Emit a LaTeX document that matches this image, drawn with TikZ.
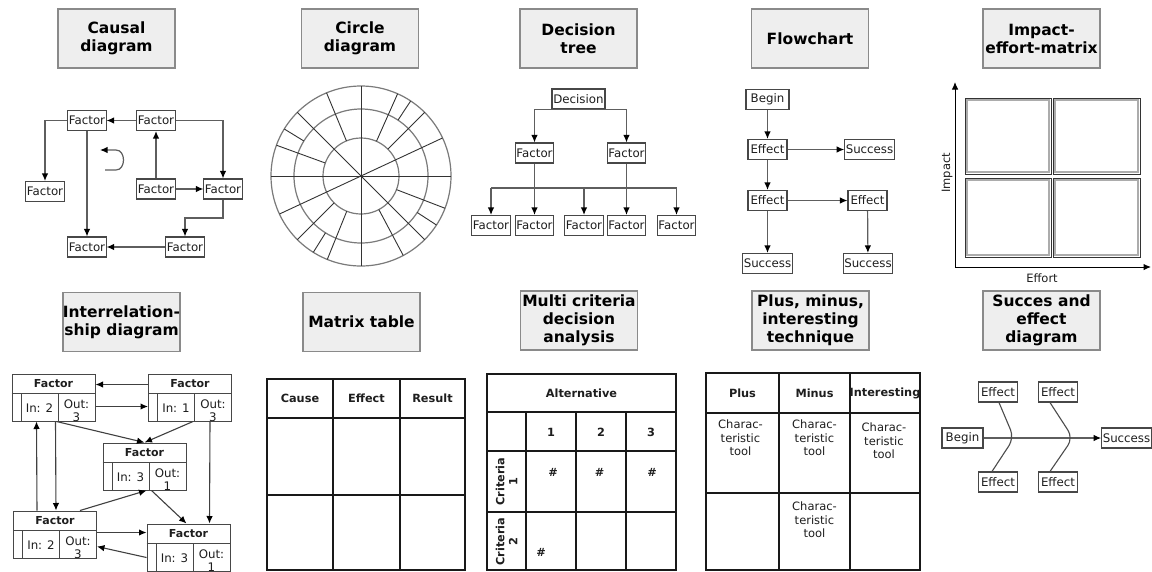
\documentclass[tikz,border=0pt]{standalone}
\usepackage{fontspec}
\setmainfont{DejaVu Sans}
\usetikzlibrary{arrows.meta,calc}

\definecolor{titlefill}{HTML}{EEEEEE}
\definecolor{titleedge}{HTML}{8A8A8A}
\definecolor{boxedge}{HTML}{474747}
\definecolor{wire}{HTML}{5E5E5E}
\definecolor{ink}{HTML}{1E1E1E}
\definecolor{ringgray}{HTML}{7A7A7A}

\tikzset{
  title/.style={draw=titleedge, fill=titlefill, line width=1.2pt,
    minimum width=117pt, minimum height=59pt, inner sep=0pt, align=center,
    font=\fontsize{15.5}{18}\selectfont\bfseries, text=black},
  box/.style={draw=boxedge, fill=white, line width=1.1pt, inner xsep=1pt,
    inner ysep=0pt, minimum width=38pt, minimum height=20pt,
    font=\fontsize{11.8}{13}\selectfont, text=ink},
  conn/.style={draw=wire, line width=1.2pt,
    -{Latex[length=7.5pt,width=6.5pt,color=black]}},
  wireline/.style={draw=wire, line width=1.2pt},
  relconn/.style={draw=black!75, line width=1.1pt,
    -{Latex[length=7.5pt,width=6.5pt,color=black]}},
  relcard/.style={draw=boxedge, fill=white, line width=1pt,
    minimum width=83pt, minimum height=47pt, inner sep=0pt},
  relrule/.style={draw=boxedge, line width=1pt},
  relhead/.style={font=\fontsize{11}{13}\selectfont\bfseries, text=ink, inner sep=0pt},
  relcell/.style={font=\fontsize{11.8}{13}\selectfont, text=ink, inner sep=0pt},
  ring/.style={draw=ringgray, line width=1.2pt},
  spoke/.style={draw=black!80, line width=0.9pt},
  quadout/.style={draw=black!80, line width=0.8pt, fill=white,
    inner sep=0pt},
  quadin/.style={draw=gray!65, line width=1.7pt},
  axis/.style={draw=black, line width=1pt,
    -{Latex[length=7.5pt,width=6.5pt,color=black]}},
  grid/.style={draw=black!90, line width=1.4pt},
  th/.style={font=\fontsize{11.3}{13}\selectfont\bfseries, text=ink, inner sep=0pt},
  td/.style={font=\fontsize{11.5}{13.5}\selectfont, text=ink, inner sep=0pt, align=center},
  axlabel/.style={font=\fontsize{11.5}{13}\selectfont, text=ink, inner sep=0pt},
  bone/.style={draw=black!70, line width=1.1pt, rounded corners=9pt},
}

% a factor card: header, blank tag cell, in-count and a clipped out-count
\newcommand\factorcard[5]{%
  \node[relcard] (#1) at (#2,#3) {};
  \draw[relrule] ($(#1.north west)+(0,20)$) -- ($(#1.north east)+(0,20)$);
  \draw[relrule] ($(#1.south west)+(9.5,0)$) -- ($(#1.north west)+(9.5,20)$);
  \draw[relrule] ($(#1.south west)+(46.5,0)$) -- ($(#1.north west)+(46.5,20)$);
  \node[relhead] at ($(#1.north)+(0,10)$) {Factor};
  \node[relcell] at ($(#1.south west)+(28,-13.5)$) {In: #4};
  \begin{scope}
    \clip ($(#1.south west)+(47,0.5)$) rectangle ($(#1.north east)+(-0.5,20.5)$);
    \node[relcell, align=center] at ($(#1.south west)+(65,-11)$) {Out:\\#5};
  \end{scope}
}

\begin{document}
\begin{tikzpicture}[x=1pt, y=-1pt]
\useasboundingbox (0,0) rectangle (1152,571);
\fill[white] (0,0) rectangle (1152,571);

% ---------- headings ----------
\node[title] (t1) at (116.5,38.5) {Causal\\diagram};
\node[title] (t2) at (360,38.5) {Circle\\diagram};
\node[title] (t3) at (578.5,38.5) {Decision\\tree};
\node[title] (t4) at (810,38.5) {Flowchart};
\node[title] (t5) at (1041.5,38.5) {Impact-\\effort-matrix};
\node[title] (t6) at (121.5,322) {Interrelation-\\ship diagram};
\node[title] (t7) at (361.5,322) {Matrix table};
\node[title] (t8) at (579,320.5) {Multi criteria\\decision\\analysis};
\node[title] (t9) at (810.5,320.5) {Plus, minus,\\interesting\\technique};
\node[title] (t10) at (1041.5,320.5) {Succes and\\effect\\diagram};

% ---------- causal diagram ----------
\node[box] (cf1) at (87,120.5) {Factor};
\node[box] (cf2) at (156,120.5) {Factor};
\node[box] (cf3) at (45,191.5) {Factor};
\node[box] (cf4) at (156,189) {Factor};
\node[box] (cf5) at (223,189) {Factor};
\node[box] (cf6) at (87,247) {Factor};
\node[box] (cf7) at (185,247) {Factor};
\coordinate (cbend) at (223,218);
\draw[conn] (cf2) -- (cf1);
\draw[conn] (cf1.west) -| (cf3.north);
\draw[conn] (cf1.south) -- (cf6.north);
\draw[conn] (cf4.north) -- (cf2.south);
\draw[conn] (cf4.east) -- (cf5.west);
\draw[conn] (cf2.east) -| (cf5.north);
\draw[conn] (cf5.south) -- (cbend) -| (cf7.north);
\draw[conn] (cf7.west) -- (cf6.east);
% turning arrow
\draw[conn] (105,170) -- (116,170) .. controls (126,170) and (126,150) .. (116,150) -- (100,150);

% ---------- circle diagram ----------
\begin{scope}[shift={(361,176)}, y=1pt]
  \draw[ring] (0,0) circle[radius=90pt];
  \draw[ring] (0,0) circle[radius=67pt];
  \draw[ring] (0,0) circle[radius=38pt];
  \foreach \a in {0,25,90,135}
    \draw[spoke] (\a:90pt) -- (\a+180:90pt);
  \foreach \a in {112.5,66,45,160,-21,-62,-112,225}
    \draw[spoke] (\a:38pt) -- (\a:90pt);
  \foreach \a in {56.5,148.5,-33,-122}
    \draw[spoke] (\a:67pt) -- (\a:90pt);
\end{scope}

% ---------- decision tree ----------
\node[box, minimum width=53pt] (dec) at (578.5,99) {Decision};
\node[box] (dl) at (534.5,153) {Factor};
\node[box] (dr) at (626.5,153) {Factor};
\node[box] (db1) at (491,225.5) {Factor};
\node[box] (db2) at (534.5,225.5) {Factor};
\node[box] (db3) at (584,225.5) {Factor};
\node[box] (db4) at (626.5,225.5) {Factor};
\node[box] (db5) at (676.5,225.5) {Factor};
\coordinate (bus) at (600,188);
\draw[conn] (dec.south) -| (dl.north);
\draw[conn] (dec.south) -| (dr.north);
\draw[conn] (dl.south) -- (db2.north);
\draw[conn] (dr.south) -- (db4.north);
\draw[wireline] (db1.north|-bus) -- (db5.north|-bus);
\draw[conn] (db1.north|-bus) -- (db1.north);
\draw[conn] (db3.north|-bus) -- (db3.north);
\draw[conn] (db5.north|-bus) -- (db5.north);

% ---------- flowchart ----------
\node[box, minimum width=43pt] (fb) at (767.5,99.5) {Begin};
\node[box, minimum width=39pt] (fe1) at (767.5,149.5) {Effect};
\node[box] (fs1) at (869.5,149.5) {Success};
\node[box, minimum width=39pt] (fe2) at (767.5,200.5) {Effect};
\node[box, minimum width=39pt] (fe3) at (867.5,200.5) {Effect};
\node[box] (fs2) at (767.5,263.5) {Success};
\node[box] (fs3) at (868,263.5) {Success};
\draw[conn] (fb) -- (fe1);
\draw[conn] (fe1) -- (fs1);
\draw[conn] (fe1) -- (fe2);
\draw[conn] (fe2) -- (fe3);
\draw[conn] (fe2) -- (fs2);
\draw[conn] (fe3) -- (fs3);

% ---------- impact-effort matrix ----------
\coordinate (org) at (955,267);
\coordinate (ytip) at (955,82);
\coordinate (xtip) at (1151,267);
\draw[axis] (org) -- (ytip);
\draw[axis] (org) -- (xtip);
\node[quadout, minimum width=86pt, minimum height=76pt] (q1) at (1008,136) {};
\node[quadout, minimum width=87pt, minimum height=76pt] (q2) at (1096.5,136) {};
\node[quadout, minimum width=86pt, minimum height=79pt] (q3) at (1008,217.5) {};
\node[quadout, minimum width=87pt, minimum height=79pt] (q4) at (1096.5,217.5) {};
\foreach \q in {q1,q2,q3,q4}
  \draw[quadin] ($(\q.north west)+(2.6,2.6)$) rectangle ($(\q.south east)+(-2.6,-2.6)$);
\node[axlabel, rotate=90] (lim) at (947,173) {Impact};
\node[axlabel] (lef) at (1042,278) {Effort};

% ---------- interrelationship diagram ----------
\factorcard{ia}{53.5}{397.5}{2}{3}
\factorcard{ib}{190}{397.5}{1}{3}
\factorcard{ic}{144.5}{466.5}{3}{1}
\factorcard{id}{55}{534.5}{2}{3}
\factorcard{ie}{188.5}{547.5}{3}{1}
\draw[relconn] ($(ib.north west)+(0,11)$) -- ($(ia.north east)+(0,11)$);
\draw[relconn] ($(ia.north east)+(0,33)$) -- ($(ib.north west)+(0,33)$);
\draw[relconn] ($(ia.south west)+(45,0)$) -- (ic.north);
\draw[relconn] ($(ib.south west)+(45,0)$) -- (ic.north);
\draw[relconn] ($(ia.south west)+(44,0)$) -- ($(id.north west)+(43,0)$);
\draw[relconn] ($(id.north west)+(24,0)$) -- ($(ia.south west)+(25,0)$);
\draw[relconn] ($(id.north west)+(67,0)$) -- ($(ic.south west)+(44,0)$);
\draw[relconn] ($(ic.south west)+(49,0)$) -- ($(ie.north west)+(40,0)$);
\draw[relconn] ($(ib.south west)+(62,0)$) -- ($(ie.north west)+(63,0)$);
\draw[relconn] ($(id.north east)+(0,22)$) -- ($(ie.north west)+(0,9)$);
\draw[relconn] ($(ie.north west)+(0,34)$) -- ($(id.north east)+(0,36)$);

% ---------- matrix table ----------
\draw[grid] (267,379) rectangle (465,570);
\draw[grid] (333,379) -- (333,570);
\draw[grid] (400,379) -- (400,570);
\draw[grid] (267,418) -- (465,418);
\draw[grid] (267,495) -- (465,495);
\node[th] (mc) at (300,398.5) {Cause};
\node[th] (me) at (366.5,398.5) {Effect};
\node[th] (mr) at (432.5,398.5) {Result};

% ---------- multi criteria decision analysis ----------
\draw[grid] (487,374) rectangle (676,570);
\draw[grid] (487,412) -- (676,412);
\draw[grid] (487,451) -- (676,451);
\draw[grid] (487,512) -- (676,512);
\draw[grid] (526,412) -- (526,570);
\draw[grid] (576,412) -- (576,570);
\draw[grid] (626,412) -- (626,570);
\node[th] (malt) at (581.5,393) {Alternative};
\node[th] (ma1) at (551,432) {1};
\node[th] (ma2) at (601,432) {2};
\node[th] (ma3) at (651,432) {3};
\node[th, rotate=90, align=center] (mk1) at (506.5,481.5) {Criteria\\1};
\node[th, rotate=90, align=center] (mk2) at (506.5,541.5) {Criteria\\2};
\node[th] (mh1) at (553,472) {\#};
\node[th] (mh2) at (599.5,472) {\#};
\node[th] (mh3) at (652,472) {\#};
\node[th] (mh4) at (541,552) {\#};

% ---------- plus, minus, interesting ----------
\draw[grid] (706,373) rectangle (920,570);
\draw[grid] (779,373) -- (779,570);
\draw[grid] (850,373) -- (850,570);
\draw[grid] (706,413) -- (920,413);
\draw[grid] (706,493) -- (920,493);
\node[th] (pp) at (742.5,393) {Plus};
\node[th] (pm) at (814.5,393) {Minus};
\node[th] (pi) at (885,393) {Interesting};
\node[td, anchor=north] (pc1) at (740.5,420) {Charac-\\teristic\\tool};
\node[td, anchor=north] (pc2) at (814.5,420) {Charac-\\teristic\\tool};
\node[td, anchor=north] (pc3) at (884,423) {Charac-\\teristic\\tool};
\node[td, anchor=north] (pc4) at (814.5,502) {Charac-\\teristic\\tool};

% ---------- success and effect diagram ----------
\node[box, minimum width=41pt] (sb) at (962.5,438) {Begin};
\node[box] (ss) at (1126.5,438) {Success};
\node[box, minimum width=39pt] (se1) at (998,392) {Effect};
\node[box, minimum width=39pt] (se2) at (1058,392) {Effect};
\node[box, minimum width=39pt] (se3) at (998,482) {Effect};
\node[box, minimum width=39pt] (se4) at (1058,482) {Effect};
\coordinate (v1) at (1014,438);
\coordinate (v2) at (1073,438);
\draw[conn] (sb) -- (ss);
\draw[bone] ($(se1.south)+(1,0)$) -- (v1) -- ($(se3.north)+(-6,0)$);
\draw[bone] ($(se2.south)+(-8,0)$) -- (v2) -- ($(se4.north)+(-8,0)$);

\end{tikzpicture}
\end{document}
